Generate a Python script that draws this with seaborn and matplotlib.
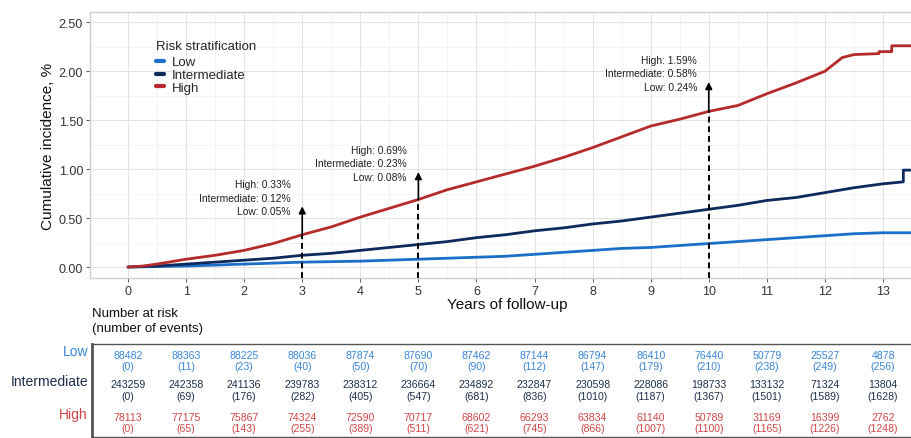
import matplotlib
matplotlib.use("Agg")
import matplotlib.pyplot as plt
import numpy as np
import pandas as pd
import seaborn as sns

# Courbes d'incidence cumulée (%)
low_t = [0, 0.5, 1, 1.5, 2, 2.5, 3, 3.5, 4, 4.5, 5, 5.5, 6, 6.5, 7, 7.5, 8, 8.5, 9, 9.5,
         10, 10.5, 11, 11.5, 12, 12.5, 13, 13.7]
low_y = [0, 0.005, 0.01, 0.02, 0.03, 0.04, 0.05, 0.055, 0.06, 0.07, 0.08, 0.09, 0.10, 0.11,
         0.13, 0.15, 0.17, 0.19, 0.20, 0.22, 0.24, 0.26, 0.28, 0.30, 0.32, 0.34, 0.35, 0.35]

int_t = [0, 0.5, 1, 1.5, 2, 2.5, 3, 3.5, 4, 4.5, 5, 5.5, 6, 6.5, 7, 7.5, 8, 8.5, 9, 9.5,
         10, 10.5, 11, 11.5, 12, 12.5, 13, 13.35, 13.35, 13.7]
int_y = [0, 0.01, 0.03, 0.05, 0.07, 0.09, 0.12, 0.14, 0.17, 0.20, 0.23, 0.26, 0.30, 0.33,
         0.37, 0.40, 0.44, 0.47, 0.51, 0.55, 0.59, 0.63, 0.68, 0.71, 0.76, 0.81, 0.85, 0.87,
         0.99, 0.99]

high_t = [0, 0.25, 0.5, 1, 1.5, 2, 2.5, 3, 3.5, 4, 4.5, 5, 5.5, 6, 6.5, 7, 7.5, 8, 8.5, 9,
          9.5, 10, 10.5, 11, 11.5, 12, 12.3, 12.5, 12.93, 12.93, 13.15, 13.15, 13.7]
high_y = [0, 0.01, 0.03, 0.08, 0.12, 0.17, 0.24, 0.33, 0.41, 0.51, 0.60, 0.69, 0.79, 0.87,
          0.95, 1.03, 1.12, 1.22, 1.33, 1.44, 1.51, 1.59, 1.65, 1.77, 1.88, 2.00, 2.14, 2.17,
          2.18, 2.20, 2.20, 2.26, 2.26]

# Annotations (année, hauteur de la flèche, textes)
annot_years = [3, 5, 10]
annot_high = [0.33, 0.69, 1.59]
annot_tip = [0.62, 0.97, 1.89]
annot_labels = [
    "High: 0.33%\nIntermediate: 0.12%\nLow: 0.05%",
    "High: 0.69%\nIntermediate: 0.23%\nLow: 0.08%",
    "High: 1.59%\nIntermediate: 0.58%\nLow: 0.24%",
]

# Tableau des sujets à risque
table_years = list(range(14))
low_risk = [88482, 88363, 88225, 88036, 87874, 87690, 87462, 87144, 86794, 86410, 76440, 50779, 25527, 4878]
low_events = [0, 11, 23, 40, 50, 70, 90, 112, 147, 179, 210, 238, 249, 256]
int_risk = [243259, 242358, 241136, 239783, 238312, 236664, 234892, 232847, 230598, 228086, 198733, 133132, 71324, 13804]
int_events = [0, 69, 176, 282, 405, 547, 681, 836, 1010, 1187, 1367, 1501, 1589, 1628]
high_risk = [78113, 77175, 75867, 74324, 72590, 70717, 68602, 66293, 63834, 61140, 50789, 31169, 16399, 2762]
high_events = [0, 65, 143, 255, 389, 511, 621, 745, 866, 1007, 1100, 1165, 1226, 1248]

groups = ["Low", "Intermediate", "High"]
line_colors = {"Low": "#1b6fc8", "Intermediate": "#0d2a5c", "High": "#b52a2a"}
table_colors = {"Low": "#3a86d6", "Intermediate": "#1e2f4c", "High": "#d04545"}

curves = pd.concat([
    pd.DataFrame({"t": low_t, "y": low_y, "group": "Low"}),
    pd.DataFrame({"t": int_t, "y": int_y, "group": "Intermediate"}),
    pd.DataFrame({"t": high_t, "y": high_y, "group": "High"}),
], ignore_index=True)

sns.set_theme(style="whitegrid")
plt.rcParams["font.family"] = ["Liberation Sans", "DejaVu Sans"]

W, H = 912, 439
fig = plt.figure(figsize=(W / 100, H / 100), dpi=100)

# Panneau principal
x0_px, x1_px = 90, 925
ax = fig.add_axes([x0_px / W, 1 - 279 / H, (x1_px - x0_px) / W, (279 - 13) / H])
px_per_year = (883 - 128) / 13
xmin = -(128 - x0_px) / px_per_year
xmax = xmin + (x1_px - x0_px) / px_per_year

sns.lineplot(data=curves, x="t", y="y", hue="group", hue_order=groups, palette=line_colors,
             estimator=None, sort=False, linewidth=2.0, ax=ax)

for yr, yh, tip, lab in zip(annot_years, annot_high, annot_tip, annot_labels):
    ax.plot([yr, yr], [-0.11, yh], color="black", lw=1.4, ls=(0, (3, 2)), zorder=4)
    ax.annotate("", xy=(yr, tip), xytext=(yr, yh),
                arrowprops=dict(arrowstyle="-|>", color="black", lw=1.2,
                                mutation_scale=10, shrinkA=0, shrinkB=0), zorder=5)
    ax.text(yr - 0.2, tip - 0.1, lab, ha="right", va="bottom", fontsize=7.4,
            color="#222222", linespacing=1.45)

ax.set_xticks(range(14))
ax.set_yticks([0, 0.5, 1.0, 1.5, 2.0, 2.5])
ax.set_yticklabels(["0.00", "0.50", "1.00", "1.50", "2.00", "2.50"])
ax.set_xticks(np.arange(0.5, 13.6, 1), minor=True)
ax.set_yticks(np.arange(0.25, 2.6, 0.5), minor=True)
ax.set_xlim(xmin, xmax)
ax.set_ylim(-0.112, 2.605)
ax.grid(which="major", color="#e3e3e3", lw=0.8)
ax.grid(which="minor", color="#f0f0f0", lw=0.5)
ax.tick_params(axis="both", which="major", labelsize=9, colors="#444444", length=3,
               width=0.6, pad=2, labelcolor="#333333", bottom=True, left=True)
ax.tick_params(which="minor", length=0)
for s in ax.spines.values():
    s.set_color("#cfcfcf")
    s.set_linewidth(1.0)
ax.set_xlabel("Years of follow-up", fontsize=11, color="#111111", labelpad=0)
ax.set_ylabel("Cumulative incidence, %", fontsize=11, color="#111111", labelpad=3)

leg = ax.legend(title="Risk stratification", loc="upper left", bbox_to_anchor=(0.073, 0.915),
                frameon=False, fontsize=9.5, title_fontsize=9.5, handlelength=0.6,
                handletextpad=0.6, labelspacing=0.05, borderaxespad=0)
leg._legend_box.align = "left"
leg._legend_box.sep = 3
for h in leg.get_lines():
    h.set_linewidth(3)

fig.text(92 / W, 1 - 308 / H, "Number at risk\n(number of events)", ha="left", va="top",
         fontsize=9.5, color="#111111", linespacing=1.35)

# Tableau des effectifs
tab = fig.add_axes([92 / W, 1 - 438 / H, (x1_px - 92) / W, (438 - 345) / H])
tab.set_xlim(xmin + (92 - x0_px) / px_per_year, xmax)
tab.set_ylim(0, 1)
tab.set_facecolor("white")
tab.grid(False)
tab.set_xticks([])
tab.set_yticks([])
for name, s in tab.spines.items():
    s.set_color("#555555")
    s.set_linewidth(2.0 if name == "left" else 1.0)

rows = [("Low", low_risk, low_events, 0.885, 0.76),
        ("Intermediate", int_risk, int_events, 0.565, 0.44),
        ("High", high_risk, high_events, 0.215, 0.095)]
for name, risk, ev, ynum, yev in rows:
    c = table_colors[name]
    for yr, n, e in zip(table_years, risk, ev):
        tab.text(yr, ynum, str(n), ha="center", va="center", fontsize=7.6, color=c)
        tab.text(yr, yev, f"({e})", ha="center", va="center", fontsize=7.6, color=c)
    yfig = (1 - 438 / H) + (ynum + 0.035) * (438 - 345) / H
    fig.text(88 / W, yfig, name, ha="right", va="center", fontsize=10, color=c)

fig.savefig("out.png", dpi=100)
